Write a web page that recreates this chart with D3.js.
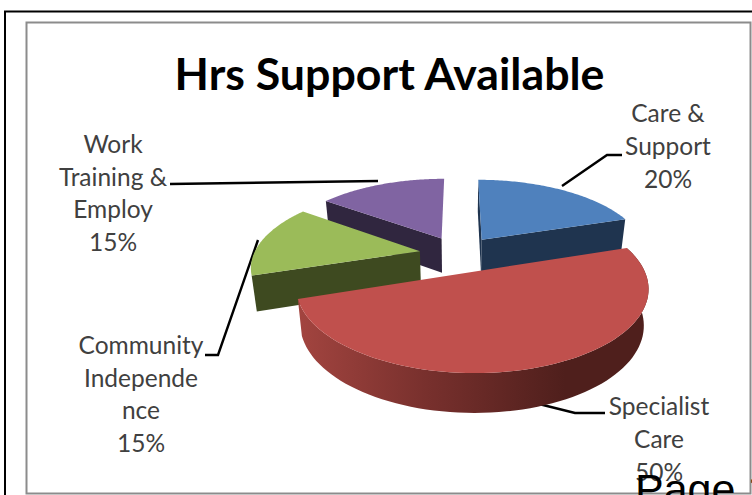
<!DOCTYPE html>
<html>
<head>
<meta charset="utf-8">
<script src="https://cdn.jsdelivr.net/npm/d3@7/dist/d3.min.js"></script>
<style>
  html, body { margin: 0; padding: 0; background: #fff; overflow: hidden; }
  svg { display: block; }
</style>
</head>
<body>
<svg id="chart" width="752" height="495"></svg>
<script>
// Share of support hours per service
const categories = ["Care & Support", "Specialist Care", "Community Independence", "Work Training & Employ"];
const shares = [20, 50, 15, 15];
const topColors = ["#4f81bd", "#c0504d", "#9bbb59", "#8064a2"];
const sideColors = ["#1f344f", "#7a302e", "#3e4a20", "#30263f"];

// Wrapped label text, one entry per category
const labelLines = [
  ["Care &", "Support", "20%"],
  ["Specialist", "Care", "50%"],
  ["Community", "Independe", "nce", "15%"],
  ["Work", "Training &", "Employ", "15%"]
];

// Label anchors and leader-line routes on the page
const labelCentres = [[668, 155], [659, 448], [141, 403], [113, 202]];
const leaderRoutes = [
  [[562, 186], [607, 155], [622, 155]],
  [[535, 403], [575, 413], [605, 413]],
  [[258, 240], [218, 355], [205, 355]],
  [[378, 181], [170, 184]]
];
const lineStep = 32.6;

// Perspective view of the tilted pie
const view = { cx: 459, cy: 254, rx: 166, ry: 75.5, tilt: 0.18, explode: 0.24, depth: 35, depthTilt: 0.1, lowerShrink: 0.975 };

const svg = d3.select("#chart");

// Unit-disc coordinates to page coordinates, optionally on the lower rim
function project(u, v, lowered) {
  const w = 1 + view.tilt * v;
  const x = view.cx + view.rx * u / w;
  const y = view.cy - view.ry * v / w;
  if (!lowered) return [x, y];
  return [view.cx + (x - view.cx) * view.lowerShrink, y + view.depth / (1 + view.depthTilt * v)];
}

const slices = d3.pie().sort(null).value(d => d)(shares).map((s, i) => {
  const mid = (s.startAngle + s.endAngle) / 2;
  return {
    i,
    start: s.startAngle,
    end: s.endAngle,
    ox: view.explode * Math.sin(mid),
    oy: view.explode * Math.cos(mid)
  };
});

const path = d3.line();

function arcPoints(s, lowered) {
  const n = 80;
  return d3.range(n + 1).map(k => {
    const a = s.start + (s.end - s.start) * k / n;
    return project(s.ox + Math.sin(a), s.oy + Math.cos(a), lowered);
  });
}

function spoke(s, angle, lowered) {
  return [
    project(s.ox, s.oy, lowered),
    project(s.ox + Math.sin(angle), s.oy + Math.cos(angle), lowered)
  ];
}

// Frames around the chart
svg.append("rect").attr("x", 5).attr("y", 11.5).attr("width", 800).attr("height", 600)
  .attr("fill", "#fff").attr("stroke", "#000").attr("stroke-width", 2);
svg.append("rect").attr("x", 26.5).attr("y", 22.5).attr("width", 724).attr("height", 471)
  .attr("fill", "#fff").attr("stroke", "#8c8c8c").attr("stroke-width", 2);

// Rim shading of the large slice runs left to right
const defs = svg.append("defs");
const rimGradient = defs.append("linearGradient")
  .attr("id", "rimShade")
  .attr("gradientUnits", "userSpaceOnUse")
  .attr("x1", project(-1, 0)[0] - 5).attr("x2", project(1, 0)[0] - 60)
  .attr("y1", 0).attr("y2", 0);
rimGradient.append("stop").attr("offset", "0").attr("stop-color", "#a64641");
rimGradient.append("stop").attr("offset", "0.5").attr("stop-color", "#78302d");
rimGradient.append("stop").attr("offset", "1").attr("stop-color", "#4f1f1c");

const chart = svg.append("g").attr("class", "pie");

// Leader lines sit under the slices
chart.selectAll("path.leader")
  .data(leaderRoutes)
  .join("path")
  .attr("class", "leader")
  .attr("d", d => path(d))
  .attr("fill", "none")
  .attr("stroke", "#000")
  .attr("stroke-width", 2.4);

// Back slices first, the large front slice last
[3, 0, 2, 1].forEach(idx => {
  const s = slices[idx];
  const g = chart.append("g");

  if (idx === 1) {
    const rim = arcPoints(s, false).concat(arcPoints(s, true).reverse());
    g.append("path").attr("d", path(rim) + "Z").attr("fill", "url(#rimShade)");
  } else {
    // Visible radial walls: blue shows both ends, green and purple only their first edge
    const wallAngles = idx === 0 ? [s.end, s.start] : [s.start];
    wallAngles.forEach(angle => {
      const upper = spoke(s, angle, false);
      const lower = spoke(s, angle, true);
      g.append("path")
        .attr("d", path(upper.concat(lower.reverse())) + "Z")
        .attr("fill", sideColors[idx]);
    });
  }

  const face = [project(s.ox, s.oy, false)].concat(arcPoints(s, false));
  g.append("path").attr("d", path(face) + "Z").attr("fill", topColors[idx]);
});

// Title
svg.append("text")
  .attr("x", 389.5).attr("y", 90)
  .attr("text-anchor", "middle")
  .attr("font-family", "Lato, 'Open Sans', sans-serif")
  .attr("font-weight", 700)
  .attr("font-size", 44.7)
  .attr("fill", "#000")
  .text("Hrs Support Available");

// Data labels
labelLines.forEach((lines, i) => {
  const [x, midY] = labelCentres[i];
  const top = midY - lineStep * (lines.length - 1) / 2;
  svg.append("text")
    .attr("text-anchor", "middle")
    .attr("font-family", "Lato, 'Open Sans', sans-serif")
    .attr("font-size", 24.5)
    .attr("fill", "#404040")
    .selectAll("tspan")
    .data(lines)
    .join("tspan")
    .attr("x", x)
    .attr("y", (d, k) => top + k * lineStep)
    .text(d => d);
});

// Running page footer overlapping the chart corner
svg.append("text")
  .attr("x", 635).attr("y", 504)
  .attr("font-family", "'Liberation Sans', Arial, sans-serif")
  .attr("font-size", 43)
  .attr("fill", "#000")
  .text("Page 1");
</script>
</body>
</html>
